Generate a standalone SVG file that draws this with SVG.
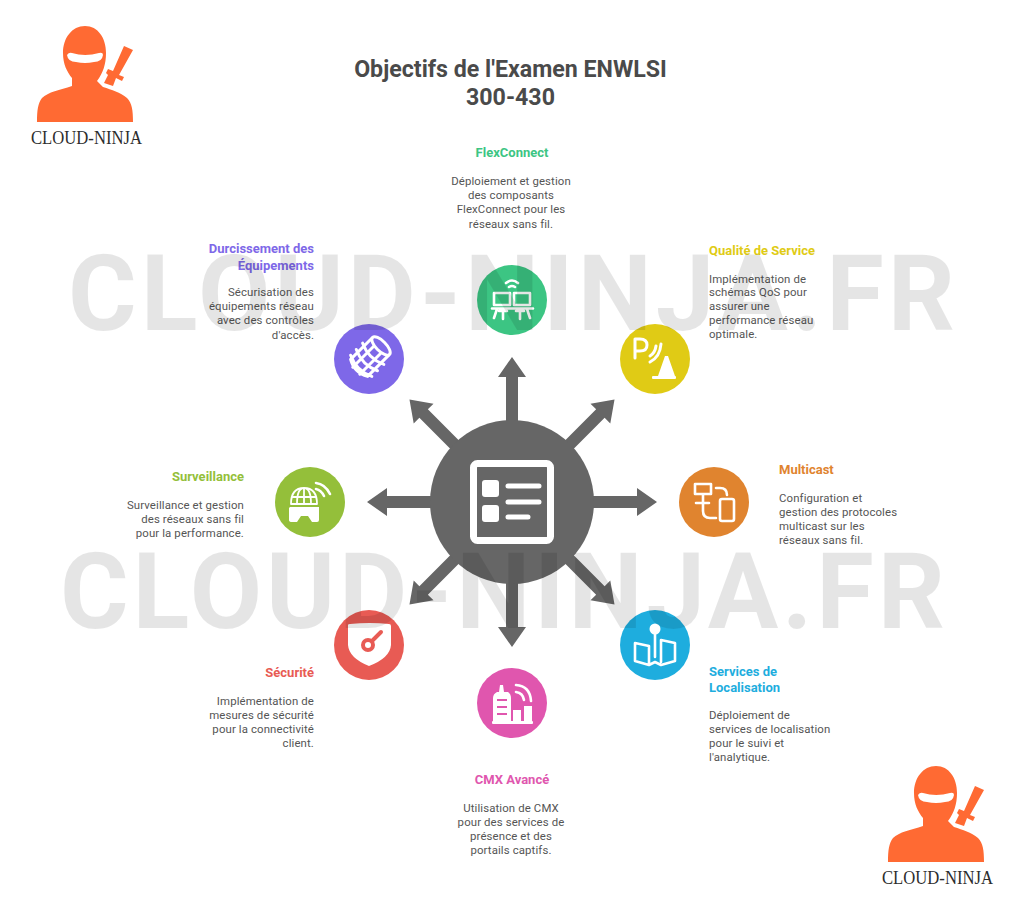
<svg xmlns="http://www.w3.org/2000/svg" xmlns:xlink="http://www.w3.org/1999/xlink" width="1024" height="913" viewBox="0 0 1024 913">
<style>
text{font-family:Roboto,"Liberation Sans",sans-serif}
.t{font-weight:700;font-size:23.2px;fill:#4a4a4a;text-anchor:middle}
.h{font-weight:700;font-size:13px}
.b{font-size:11.4px;fill:#555;letter-spacing:.12px}
.m{text-anchor:middle}.e{text-anchor:end}
.wm{font-weight:700;font-size:105px;fill:#000;fill-opacity:.1}
.logo{font-family:"Liberation Serif",serif;font-size:19.500px;fill:#2c2c2c}
.i{fill:none;stroke:#fff;stroke-width:2.6;stroke-linecap:round;stroke-linejoin:round}
.f{fill:#fff;stroke:none}
.arrow{fill:#666}
</style>
<defs>
<g id="ninja">
<path fill="#ff6a33" d="M85 26C72 26 63 38 63 53C63 64 67 72 72 78L72 86C60 90 48 92 42 98C38 103 37 110 37 122L133 122C133 110 132 103 127 98C120 92 112 90 103 87L97 81C103 73 106 64 106 53C106 38 98 26 85 26Z"/>
<path fill="#fff" d="M67 55Q69 52 72 53Q85 57 99 53Q103 52 103 55Q102 62 94 62Q85 64 76 62Q68 62 67 55Z"/>
<path fill="#ff6a33" d="M124 46L133 50L119 75L124 77L122 81L116 78L113 86L104 83L108 75L106 73L108 69L113 71Z"/>
<text class="logo" x="31" y="143.500" textLength="111" lengthAdjust="spacingAndGlyphs">CLOUD-NINJA</text>
</g>
<path id="arr" class="arrow" d="M-6 -75L-6 -125L-14 -125L0 -145L14 -125L6 -125L6 -75Z"/>
</defs>

<rect width="1024" height="913" fill="#fff"/>

<g id="logo-top"><use href="#ninja"/></g>
<g id="logo-bottom"><use href="#ninja" x="851" y="740"/></g>

<g id="title"><text class="t" x="510.500" y="77">Objectifs de l'Examen ENWLSI</text><text class="t" x="510.500" y="105">300-430</text></g>

<g id="connectors" transform="translate(512 502)">
<use href="#arr"/><use href="#arr" transform="rotate(45)"/><use href="#arr" transform="rotate(90)"/><use href="#arr" transform="rotate(135)"/><use href="#arr" transform="rotate(180)"/><use href="#arr" transform="rotate(225)"/><use href="#arr" transform="rotate(270)"/><use href="#arr" transform="rotate(315)"/>
</g>

<g id="center">
<circle cx="512" cy="502" r="82" fill="#666"/>
<rect x="473.500" y="463.500" width="77" height="77" rx="4" fill="none" stroke="#fff" stroke-width="7"/>
<rect class="f" x="482" y="480" width="17" height="17" rx="3"/>
<rect class="f" x="482" y="505" width="17" height="17" rx="3"/>
<path d="M508 486H539M508 502H539M508 517H528" stroke="#fff" stroke-width="5" stroke-linecap="round" fill="none"/>
</g>

<g id="flexconnect">
<circle cx="512" cy="300" r="35" fill="#3cc583"/>
<path class="i" d="M494 293H510V305H494ZM514 293H530V305H514ZM492 308.500H533M497 309L494 318M527 309L530 318M503 311V319M520 311V319M499 311H507M516 311H524M506 283Q512 278 518 283M509 287Q512 285 515 287"/>
<text class="h m" x="512" y="157" fill="#3cc583">FlexConnect</text>
<text class="b m"><tspan x="511" y="185">Déploiement et gestion</tspan><tspan x="511" y="199">des composants</tspan><tspan x="511" y="213">FlexConnect pour les</tspan><tspan x="511" y="228">réseaux sans fil.</tspan></text>
</g>

<g id="durcissement">
<circle cx="369" cy="359" r="35" fill="#7e68e8"/>
<g transform="translate(369 358) rotate(45)">
<path class="i" style="stroke-width:3" d="M-12 -16V14Q0 21 12 14V-16M-15 -6Q0 1 15 -6M-15 3Q0 10 15 3M-15 11Q0 18 15 11M-5 -11V18M5 -11V18"/>
<ellipse class="i" style="stroke-width:3" cx="0" cy="-17" rx="12" ry="5"/>
</g>
<text class="h e" fill="#7e68e8"><tspan x="314" y="253">Durcissement des</tspan><tspan x="314" y="270">Équipements</tspan></text>
<text class="b e"><tspan x="314" y="296">Sécurisation des</tspan><tspan x="314" y="310">équipements réseau</tspan><tspan x="314" y="324">avec des contrôles</tspan><tspan x="314" y="339">d'accès.</tspan></text>
</g>

<g id="qualite">
<circle cx="655" cy="359" r="35" fill="#e0cb15"/>
<path class="i" style="stroke-width:3" d="M635 358V339H640Q647 339 647 345Q647 351 640 351H635M650 356Q655 353 656 346M650 362Q660 357 661 344"/>
<path class="f" d="M658 376L665 356H668L675 376Z"/>
<rect class="f" x="652" y="376" width="24" height="3" rx="1"/>
<text class="h" x="709" y="255" fill="#e0cb15">Qualité de Service</text>
<text class="b"><tspan x="709" y="283">Implémentation de</tspan><tspan x="709" y="296">schémas QoS pour</tspan><tspan x="709" y="310">assurer une</tspan><tspan x="709" y="324">performance réseau</tspan><tspan x="709" y="338">optimale.</tspan></text>
</g>

<g id="surveillance">
<circle cx="310" cy="502" r="35" fill="#94bf3a"/>
<path class="i" style="stroke-width:1.800" d="M291 504Q291 488 304 488Q317 488 317 504M304 488V504M297 504Q297 488 304 488Q311 488 311 504M292 497H316M291 504H317"/>
<path class="f" d="M290 507H319V520Q319 522 317 522H312L308 516H301L297 522H292Q289 522 289 520V508Z"/>
<path class="i" d="M316 483Q325 484 330 494M316 489Q321 490 324 496"/>
<text class="h e" x="244" y="481" fill="#94bf3a">Surveillance</text>
<text class="b e"><tspan x="244" y="509">Surveillance et gestion</tspan><tspan x="244" y="523">des réseaux sans fil</tspan><tspan x="244" y="537">pour la performance.</tspan></text>
</g>

<g id="multicast">
<circle cx="714" cy="502" r="35" fill="#e0842f"/>
<path class="i" d="M695 484H711V494H695ZM703 494V502M696 503H709M703 503V511Q703 518 710 518H716M716 488H720Q727 488 727 495"/>
<rect class="i" x="720" y="499" width="14" height="22" rx="2"/>
<text class="h" x="779" y="474" fill="#e0842f">Multicast</text>
<text class="b"><tspan x="779" y="502">Configuration et</tspan><tspan x="779" y="516">gestion des protocoles</tspan><tspan x="779" y="530">multicast sur les</tspan><tspan x="779" y="544">réseaux sans fil.</tspan></text>
</g>

<g id="securite">
<circle cx="369" cy="645" r="35" fill="#e85b54"/>
<path class="f" d="M348 625Q348 624 350 624Q370 622 389 624Q391 624 391 626V645Q390 658 369 666Q349 658 348 645Z"/>
<circle cx="368" cy="645" r="5" fill="none" stroke="#e85b54" stroke-width="4"/>
<path d="M372 641L381 632" stroke="#e85b54" stroke-width="4" stroke-linecap="round"/>
<text class="h e" x="314" y="677" fill="#e85b54">Sécurité</text>
<text class="b e"><tspan x="314" y="705">Implémentation de</tspan><tspan x="314" y="719">mesures de sécurité</tspan><tspan x="314" y="733">pour la connectivité</tspan><tspan x="314" y="747">client.</tspan></text>
</g>

<g id="localisation">
<circle cx="655" cy="645" r="35" fill="#1eadde"/>
<circle class="f" cx="655" cy="629" r="5.500"/>
<path class="i" d="M655 632V657M649 646L635 643V661L649 665L655 662L661 665L675 661V643L661 640V662M649 646V665"/>
<text class="h" fill="#1eadde"><tspan x="709" y="676">Services de</tspan><tspan x="709" y="692">Localisation</tspan></text>
<text class="b"><tspan x="709" y="719">Déploiement de</tspan><tspan x="709" y="733">services de localisation</tspan><tspan x="709" y="747">pour le suivi et</tspan><tspan x="709" y="761">l'analytique.</tspan></text>
</g>

<g id="cmx">
<circle cx="512" cy="703" r="35" fill="#e056ae"/>
<path class="f" d="M500 685H503L504 692H508Q511 694 511 698V722H493V698Q493 694 497 692H499Z"/>
<path d="M497 700H507M497 707H507M497 714H507" stroke="#e056ae" stroke-width="2"/>
<rect class="f" x="492" y="721" width="41" height="3" rx="1"/>
<rect class="f" x="513" y="710" width="8" height="12"/>
<rect class="f" x="524" y="706" width="8" height="16"/>
<path class="i" d="M516 685Q530 686 531 701M516 692Q523 693 524 700"/>
<text class="h m" x="512" y="784" fill="#e056ae">CMX Avancé</text>
<text class="b m"><tspan x="511" y="812">Utilisation de CMX</tspan><tspan x="511" y="826">pour des services de</tspan><tspan x="511" y="840">présence et des</tspan><tspan x="511" y="854">portails captifs.</tspan></text>
</g>

<g id="watermarks">
<text class="wm" x="68" y="330" textLength="887" lengthAdjust="spacing">CLOUD-NINJA.FR</text>
<text class="wm" x="60" y="628" textLength="885" lengthAdjust="spacing">CLOUD-NINJA.FR</text>
</g>
</svg>
